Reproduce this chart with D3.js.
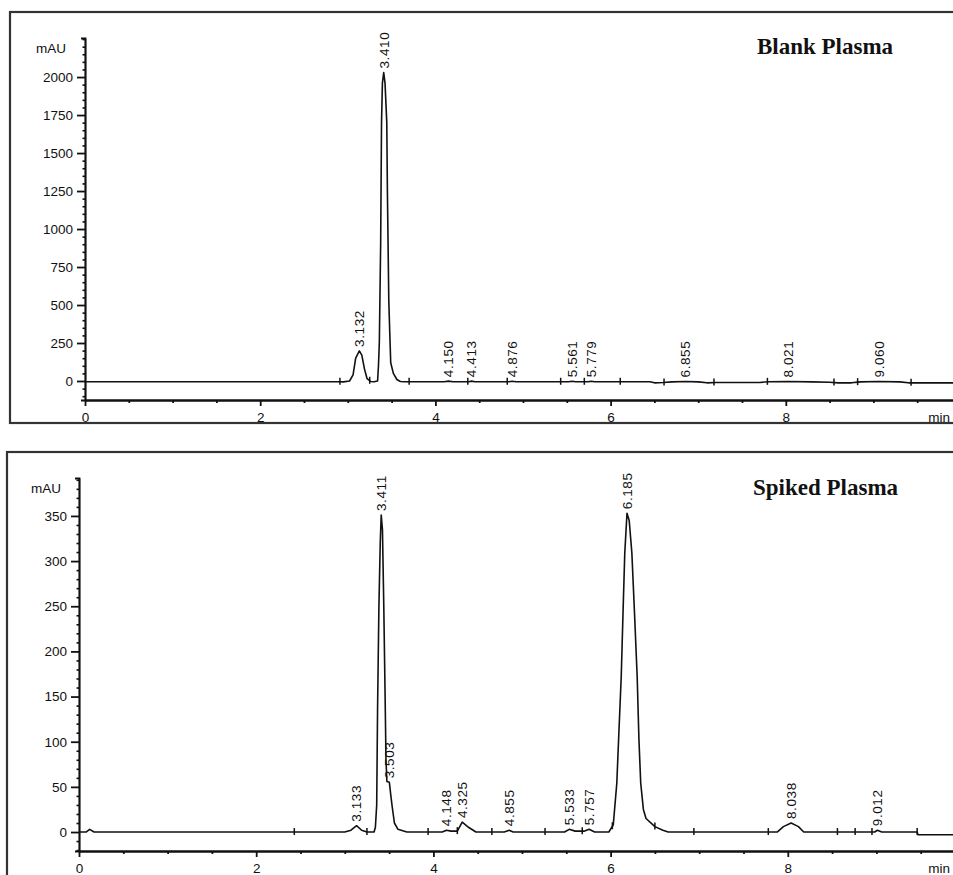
<!DOCTYPE html>
<html>
<head>
<meta charset="utf-8">
<script src="https://cdn.jsdelivr.net/npm/d3@7/dist/d3.min.js"></script>
<style>
  html, body { margin: 0; padding: 0; background: #fff; }
  svg { display: block; }
  text { font-family: "Liberation Sans", Arial, sans-serif; fill: #111; }
</style>
</head>
<body>
<svg id="chart" width="953" height="875"></svg>
<script>
// ---- Blank plasma chromatogram (retention time in min, absorbance in mAU) ----
const blankTime = [0, 2.88, 2.95, 3.02, 3.06, 3.09, 3.132, 3.16, 3.19, 3.22, 3.26, 3.30, 3.34, 3.35, 3.36, 3.375, 3.385, 3.395, 3.41, 3.425, 3.445, 3.452, 3.462, 3.468, 3.48, 3.49, 3.52, 3.56, 3.60, 3.65, 4.10, 4.15, 4.20, 4.38, 4.413, 4.45, 4.84, 4.876, 4.92, 5.52, 5.561, 5.60, 5.74, 5.779, 5.82, 6.45, 6.50, 6.60, 6.70, 6.855, 7.00, 7.10, 7.20, 7.70, 7.80, 8.021, 8.30, 8.50, 8.60, 8.75, 8.85, 9.06, 9.30, 9.40, 9.50, 10.0];
const blankSignal = [-5, -5, -6, 0, 40, 150, 198, 170, 80, 15, -3, -5, 0, 100, 255, 900, 1700, 1960, 2030, 1960, 1700, 1250, 800, 530, 300, 120, 50, 10, -3, -5, -5, -1, -5, -5, -1, -5, -5, -2, -5, -5, -2, -5, -5, -2, -5, -5, -12, -10, -6, -3, -6, -12, -10, -10, -5, -3, -6, -8, -12, -12, -6, -3, -6, -12, -12, -12];
const blankPeakRT = [3.132, 3.41, 4.15, 4.413, 4.876, 5.561, 5.779, 6.855, 8.021, 9.06];
const blankPeakLabels = ["3.132", "3.410", "4.150", "4.413", "4.876", "5.561", "5.779", "6.855", "8.021", "9.060"];
const blankMarks = [2.91, 3.25, 3.70, 4.37, 4.82, 5.43, 5.70, 6.11, 6.61, 7.18, 7.79, 8.55, 8.82, 9.43];
const blankYTicks = [0, 250, 500, 750, 1000, 1250, 1500, 1750, 2000];

// ---- Spiked plasma chromatogram ----
const spikedTime = [0, 0.08, 0.12, 0.17, 3.0, 3.07, 3.133, 3.19, 3.25, 3.33, 3.345, 3.36, 3.37, 3.385, 3.40, 3.411, 3.425, 3.44, 3.455, 3.465, 3.475, 3.503, 3.52, 3.535, 3.56, 3.60, 3.70, 4.10, 4.148, 4.20, 4.27, 4.325, 4.40, 4.48, 4.80, 4.855, 4.90, 5.48, 5.533, 5.60, 5.70, 5.757, 5.82, 5.98, 6.03, 6.07, 6.09, 6.12, 6.14, 6.16, 6.185, 6.21, 6.24, 6.27, 6.30, 6.32, 6.34, 6.37, 6.40, 6.50, 6.59, 6.65, 7.88, 7.95, 8.038, 8.12, 8.18, 8.98, 9.012, 9.06, 9.46, 9.47, 10.0];
const spikedSignal = [0, 0, 3, 0, 0, 2, 7, 2, 0, 0, 5, 30, 138, 250, 320, 351, 335, 250, 150, 80, 56, 55, 40, 28, 10, 3, 0, 0, 2, 1, 1, 11, 5, 0, 0, 2, 0, 0, 3, 1, 1, 3, 0, 0, 8, 54, 102, 172, 242, 309, 353, 345, 309, 242, 172, 102, 54, 25, 15, 6, 2, 0, 0, 6, 10, 6, 0, 0, 2, 0, 0, -3, -3];
const spikedPeakRT = [3.133, 3.411, 3.503, 4.148, 4.325, 4.855, 5.533, 5.757, 6.185, 8.038, 9.012];
const spikedPeakLabels = ["3.133", "3.411", "3.503", "4.148", "4.325", "4.855", "5.533", "5.757", "6.185", "8.038", "9.012"];
const spikedMarks = [2.43, 3.25, 3.94, 4.27, 4.66, 5.26, 5.68, 6.02, 6.50, 6.94, 7.78, 8.56, 8.76, 8.95, 9.46];
const spikedYTicks = [0, 50, 100, 150, 200, 250, 300, 350];

const xMajorTicks = [0, 2, 4, 6, 8];
const titles = ["Blank Plasma", "Spiked Plasma"];
const unitLabel = "mAU";
const timeLabel = "min";

// Layout of the two stacked panels
const panels = [
  {
    title: titles[0], time: blankTime, signal: blankSignal,
    rt: blankPeakRT, labels: blankPeakLabels, marks: blankMarks,
    yTicks: blankYTicks, yMinorStep: 50, yDomain: [-125, 2257],
    frame: { x: 10, y: 12, w: 970, h: 411 },
    plot: { left: 85, right: 961, top: 38, bottom: 400 },
    titleAt: [757, 54], unitAt: [66, 53]
  },
  {
    title: titles[1], time: spikedTime, signal: spikedSignal,
    rt: spikedPeakRT, labels: spikedPeakLabels, marks: spikedMarks,
    yTicks: spikedYTicks, yMinorStep: 10, yDomain: [-21, 392],
    frame: { x: 7, y: 452, w: 975, h: 460 },
    plot: { left: 79, right: 965, top: 478, bottom: 851 },
    titleAt: [753, 495], unitAt: [61, 493]
  }
];

const svg = d3.select("#chart");

// linear read-out of the trace at time t (used to seat labels and event marks on the trace)
function traceAt(times, vals, t) {
  const i = d3.bisectLeft(times, t);
  if (i <= 0) return vals[0];
  if (i >= times.length) return vals[vals.length - 1];
  const t0 = times[i - 1], t1 = times[i];
  return vals[i - 1] + (vals[i] - vals[i - 1]) * (t - t0) / (t1 - t0);
}

panels.forEach(p => {
  const g = svg.append("g");

  // panel frame
  g.append("rect")
    .attr("x", p.frame.x).attr("y", p.frame.y)
    .attr("width", p.frame.w).attr("height", p.frame.h)
    .attr("fill", "none").attr("stroke", "#333").attr("stroke-width", 2.2);

  const x = d3.scaleLinear().domain([0, 10]).range([p.plot.left, p.plot.right]);
  const y = d3.scaleLinear().domain(p.yDomain).range([p.plot.bottom, p.plot.top]);

  // y axis: minor ticks
  const yMinor = d3.range(Math.ceil(p.yDomain[0] / p.yMinorStep) * p.yMinorStep, p.yDomain[1], p.yMinorStep)
    .filter(v => !p.yTicks.includes(v));
  g.append("g")
    .attr("transform", `translate(${p.plot.left},0)`)
    .call(d3.axisLeft(y).tickValues(yMinor).tickSize(2.5).tickSizeOuter(0).tickFormat(""))
    .call(s => s.selectAll("line,path").attr("stroke", "#111").attr("stroke-width", 1.6));

  // y axis: major ticks and labels
  g.append("g")
    .attr("transform", `translate(${p.plot.left},0)`)
    .call(d3.axisLeft(y).tickValues(p.yTicks).tickSize(8).tickSizeOuter(4).tickPadding(4).tickFormat(d3.format("d")))
    .call(s => s.selectAll("line,path").attr("stroke", "#111").attr("stroke-width", 1.8))
    .call(s => s.selectAll("text").attr("font-size", 13.5).attr("font-family", "Liberation Sans, Arial, sans-serif").attr("fill", "#111"));

  // x axis: minor ticks every half minute
  const xMinor = d3.range(0.5, 10, 0.5).filter(v => !xMajorTicks.includes(v));
  g.append("g")
    .attr("transform", `translate(0,${p.plot.bottom})`)
    .call(d3.axisBottom(x).tickValues(xMinor).tickSize(3).tickSizeOuter(0).tickFormat(""))
    .call(s => s.selectAll("line,path").attr("stroke", "#111").attr("stroke-width", 1.8));

  // x axis: major ticks and labels
  g.append("g")
    .attr("transform", `translate(0,${p.plot.bottom})`)
    .call(d3.axisBottom(x).tickValues(xMajorTicks).tickSize(6).tickSizeOuter(0).tickPadding(6).tickFormat(d3.format("d")))
    .call(s => s.selectAll("line,path").attr("stroke", "#111").attr("stroke-width", 1.8))
    .call(s => s.selectAll("text").attr("font-size", 13.5).attr("font-family", "Liberation Sans, Arial, sans-serif").attr("fill", "#111"));

  // axis unit captions
  g.append("text")
    .attr("x", p.unitAt[0]).attr("y", p.unitAt[1])
    .attr("text-anchor", "end").attr("font-size", 13.5)
    .text(unitLabel);
  g.append("text")
    .attr("x", 950).attr("y", p.plot.bottom + 22)
    .attr("text-anchor", "end")
    .attr("font-size", 13.5)
    .text(timeLabel);

  // chromatogram trace
  const pts = p.time.map((t, i) => [t, p.signal[i]]);
  g.append("path")
    .datum(pts)
    .attr("fill", "none").attr("stroke", "#111").attr("stroke-width", 1.6)
    .attr("stroke-linejoin", "round")
    .attr("d", d3.line().x(d => x(d[0])).y(d => y(d[1])));

  // integration event marks on the trace
  g.selectAll("line.mark")
    .data(p.marks).enter().append("line")
    .attr("class", "mark")
    .attr("x1", t => x(t)).attr("x2", t => x(t))
    .attr("y1", t => y(traceAt(p.time, p.signal, t)) - 4)
    .attr("y2", t => y(traceAt(p.time, p.signal, t)) + 3)
    .attr("stroke", "#111").attr("stroke-width", 1.5);

  // retention-time labels above each peak apex
  g.selectAll("text.rt")
    .data(p.rt).enter().append("text")
    .attr("class", "rt")
    .attr("transform", t => `translate(${x(t)},${y(traceAt(p.time, p.signal, t)) - 4}) rotate(-90)`)
    .attr("dy", "0.36em")
    .attr("font-size", 13.5)
    .attr("letter-spacing", 0.6)
    .text((t, i) => p.labels[i]);

  // panel title
  g.append("text")
    .attr("x", p.titleAt[0]).attr("y", p.titleAt[1])
    .attr("font-weight", "bold").attr("font-size", 23)
    .style("font-family", "'Liberation Serif', 'Times New Roman', serif")
    .text(p.title);
});
</script>
</body>
</html>
